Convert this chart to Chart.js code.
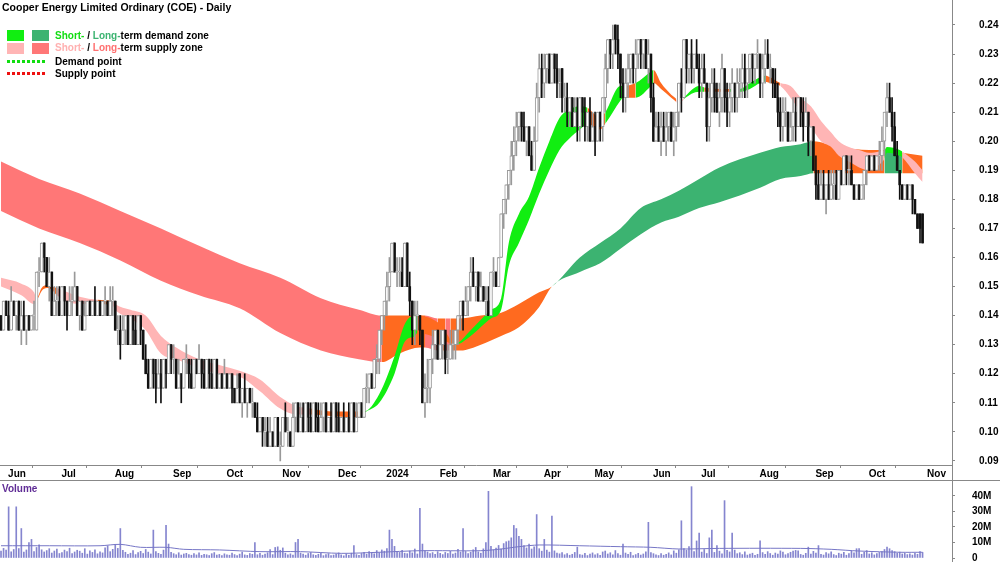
<!DOCTYPE html>
<html>
<head>
<meta charset="utf-8">
<script src="https://cdn.jsdelivr.net/npm/chart.js"></script>
<style>
  body { margin: 0; background: #fff; }
  #wrap { position: relative; width: 1000px; height: 562px; overflow: hidden; font-family: "Liberation Sans", Arial, sans-serif; }
  canvas { position: absolute; left: 0; }
  #priceCanvas { top: 0; }
  #volCanvas { top: 480px; }
  .lab { position: absolute; font-size: 10px; font-weight: bold; line-height: 12px; white-space: nowrap; color: #000; }
  .sw { position: absolute; width: 17px; height: 11px; }
  .dots { position: absolute; width: 38px; height: 3px; }
  .hline { position: absolute; left: 0; top: 480px; width: 1000px; height: 1px; background: #888; }
  .vline { position: absolute; left: 952px; top: 0; width: 1px; height: 562px; background: #888; }
</style>
</head>
<body>
<div id="wrap">
  <canvas id="priceCanvas" width="1000" height="481"></canvas>
  <canvas id="volCanvas" width="1000" height="82"></canvas>
  <div class="hline"></div>
  <div class="vline"></div>

  <div class="lab" style="left:2px;top:1px;font-size:10.5px">Cooper Energy Limited Ordinary (COE) - Daily</div>

  <div class="sw" style="left:7px;top:30px;background:#11ee11"></div>
  <div class="sw" style="left:32px;top:30px;background:#3cb371"></div>
  <div class="lab" style="left:55px;top:30px"><span style="color:#11dd11">Short-</span> / <span style="color:#3cb371">Long-</span>term demand zone</div>

  <div class="sw" style="left:7px;top:43px;background:#ffb5b5"></div>
  <div class="sw" style="left:32px;top:43px;background:#ff7777"></div>
  <div class="lab" style="left:55px;top:42px"><span style="color:#ffb0b0">Short-</span> / <span style="color:#ff7070">Long-</span>term supply zone</div>

  <div class="dots" style="left:7px;top:60px;background:repeating-linear-gradient(90deg,#11dd11 0 3px,transparent 3px 5px)"></div>
  <div class="lab" style="left:55px;top:56px">Demand point</div>
  <div class="dots" style="left:7px;top:72px;background:repeating-linear-gradient(90deg,#ee1111 0 3px,transparent 3px 5px)"></div>
  <div class="lab" style="left:55px;top:68px">Supply point</div>

  <div class="lab" style="left:2px;top:483px;color:#602d96">Volume</div>
</div>

<script>
// prices in thousandths of a dollar, one entry per trading day (30 May 2023 - 31 Oct 2024)
const opens = [
  140,135,145,140,135,145,140,145,135,140, 135,140,135,140,135,155,155,165,160,150,
  155,140,145,145,140,150,145,140,145,145, 150,140,145,135,140,145,140,145,140,145,
  140,145,145,140,145,145,135,135,130,135, 140,130,140,135,130,140,135,125,120,115,
  125,120,115,120,115,125,120,130,125,125, 115,120,115,125,125,120,115,125,120,125,
  120,115,125,120,115,125,115,120,115,120, 115,120,115,110,120,110,115,110,115,110,
  110,105,100,105,100,100,95,100,95,105, 95,95,105,100,100,95,105,110,100,105,
  100,110,105,100,110,105,100,105,110,100, 105,100,110,105,100,105,100,105,100,110,
  100,105,110,105,115,115,120,115,125,125, 135,140,145,150,155,165,155,155,155,150,
  165,150,145,135,140,140,135,110,115,115, 125,130,135,125,130,135,125,125,130,130,
  135,140,145,140,145,150,155,150,155,145, 150,145,145,140,155,155,150,160,175,180,
  185,190,195,200,205,210,205,200,205,195, 190,200,215,225,220,225,230,220,230,225,
  220,225,215,215,210,215,205,210,205,215, 210,205,210,200,205,200,210,205,215,225,
  235,230,240,235,230,220,215,220,225,230, 225,230,235,230,235,225,230,215,200,205,
  200,205,200,205,210,200,205,210,220,215, 235,225,230,225,230,225,220,225,220,205,
  215,220,215,210,215,225,215,210,215,220, 215,220,220,225,220,225,230,225,230,230,
  220,225,230,225,225,220,215,210,205,210, 210,200,205,210,205,215,210,205,210,200,
  205,190,185,180,185,180,185,180,185,185, 180,190,185,195,190,190,185,180,185,180,
  185,190,195,190,195,190,195,195,200,210, 215,210,205,195,190,185,180,185,180,185,
  180,175,175,175
];
const highs = [
  140,145,145,145,150,145,145,145,145,145, 140,140,140,145,155,160,165,165,160,160,
  155,150,150,150,150,150,145,150,150,155, 150,145,145,145,145,145,145,150,145,145,
  145,150,145,150,150,145,140,140,140,140, 140,140,140,140,140,140,135,130,125,125,
  125,125,125,125,125,125,130,130,130,125, 125,120,125,130,125,125,125,125,130,125,
  125,125,125,125,125,125,120,120,125,120, 120,120,115,120,120,115,120,115,115,115,
  110,110,105,105,105,105,105,100,105,105, 100,105,110,105,100,110,110,110,110,110,
  110,110,110,110,110,110,110,110,110,105, 110,110,110,110,105,110,105,110,110,110,
  110,110,110,115,120,120,120,125,130,135, 140,145,155,160,165,165,160,160,160,165,
  165,155,145,145,145,140,135,120,125,125, 135,135,135,135,135,135,130,135,135,135,
  140,145,145,150,150,160,160,155,155,155, 150,150,150,155,160,155,160,175,180,185,
  190,200,205,210,210,210,210,205,205,200, 205,220,230,230,230,230,230,230,230,230,
  225,225,220,220,215,215,215,215,215,215, 215,210,215,210,210,210,210,215,230,235,
  235,240,240,240,230,225,225,230,230,230, 235,235,235,235,235,235,230,220,210,210,
  210,210,210,210,210,210,210,220,225,235, 235,230,235,230,235,230,230,230,220,220,
  225,225,220,220,230,225,220,220,225,220, 225,225,230,230,225,230,230,230,235,230,
  230,235,235,230,225,225,220,215,215,215, 210,210,215,215,215,215,215,215,210,205,
  205,195,190,190,190,185,190,190,190,190, 190,190,195,195,195,195,185,185,185,185,
  190,195,195,195,195,195,200,205,210,220, 220,215,210,200,190,185,185,185,185,185,
  180,175,175,175
];
const lows = [
  135,135,140,135,135,140,135,135,130,135, 130,135,135,135,135,150,155,155,150,145,
  140,140,140,140,140,140,135,140,140,145, 140,135,135,135,140,140,140,140,140,140,
  140,140,140,140,140,135,130,125,130,130, 130,130,130,130,130,130,125,120,115,115,
  115,110,115,110,115,115,120,120,120,115, 115,110,115,120,115,115,115,120,120,115,
  115,115,115,115,115,115,115,115,115,115, 115,110,110,110,110,105,110,105,110,105,
  105,100,100,95,95,95,95,95,95,95, 90,95,100,95,95,95,100,100,100,100,
  100,100,100,100,100,100,100,100,100,100, 100,100,100,100,100,100,100,100,100,100,
  100,105,105,105,110,110,115,115,120,120, 130,135,140,145,155,155,150,150,150,150,
  150,140,130,130,135,130,110,105,110,110, 120,125,125,125,125,120,120,125,125,125,
  130,135,135,140,140,145,150,145,145,145, 145,140,140,140,150,150,150,160,170,175,
  180,185,190,195,200,200,200,195,195,190, 190,200,210,215,215,220,220,220,220,215,
  215,210,210,205,205,205,205,200,200,205, 200,200,200,200,195,200,200,200,210,220,
  225,225,230,225,215,210,210,215,220,220, 220,225,225,225,225,220,210,200,200,200,
  195,200,195,200,200,195,200,205,210,215, 220,220,220,220,225,215,215,220,200,200,
  210,210,210,205,210,210,205,205,210,210, 210,215,215,215,215,220,220,220,225,215,
  215,220,225,220,215,215,205,200,200,205, 200,200,200,200,205,205,200,205,195,195,
  190,180,180,180,180,175,180,180,180,180, 180,185,185,185,185,185,180,180,180,180,
  180,185,190,190,190,190,190,190,195,205, 210,200,195,190,180,180,180,180,180,175,
  175,170,165,165
];
const closes = [
  135,145,140,135,145,140,145,135,140,135, 140,135,140,140,155,155,165,160,150,155,
  140,145,145,140,150,145,140,145,145,150, 140,145,135,140,145,140,145,140,145,140,
  145,145,140,145,145,135,135,130,135,140, 130,140,135,130,140,135,125,120,115,125,
  120,115,120,115,125,120,130,125,125,115, 120,115,125,125,120,115,125,120,125,120,
  115,125,120,115,125,115,120,115,120,115, 120,115,110,115,110,115,110,115,110,110,
  105,100,105,100,100,95,100,95,105,95, 95,105,100,100,95,105,110,100,105,100,
  110,105,100,110,105,100,105,110,100,105, 100,110,105,100,105,100,105,100,110,100,
  105,110,105,115,115,120,115,125,125,135, 140,145,150,155,165,155,155,155,150,165,
  150,145,135,140,140,135,110,115,115,125, 130,135,125,130,135,125,125,130,130,135,
  140,145,140,145,150,155,150,155,145,150, 145,145,140,155,155,150,160,175,180,185,
  190,195,200,205,210,205,200,205,195,190, 200,215,225,220,225,230,220,230,225,220,
  220,215,215,210,215,205,210,205,215,210, 205,210,200,205,200,210,205,215,225,235,
  230,235,235,230,220,215,220,225,230,225, 230,235,230,235,225,230,215,200,205,200,
  205,200,205,210,200,205,210,220,215,235, 225,230,225,230,225,220,225,220,205,215,
  220,215,210,215,225,215,210,215,220,215, 220,220,225,220,225,230,225,230,230,220,
  225,230,225,225,220,215,210,205,210,210, 200,205,210,205,215,210,205,210,200,205,
  190,185,180,185,180,185,180,185,185,180, 190,185,195,190,190,185,180,185,180,185,
  190,195,190,195,190,195,195,200,210,215, 210,205,195,190,185,180,185,180,185,180,
  175,170,170,165
];
// daily volume, millions of shares
const volumes = [
  4.5,6.2,5.1,33,4.0,5.5,33,6.1,19,3.8,5.2,10,12,4.1,6.8,8.5,5.3,3.9,4.8,6.0,
  3.2,4.5,5.8,2.9,3.5,5.1,4.2,6.3,2.8,3.9,5.0,4.4,3.1,6.0,2.5,4.7,3.6,5.2,2.7,4.0,
  3.3,6.5,7.8,4.1,5.6,8.8,6.2,19,5.0,3.7,2.4,3.1,4.8,2.2,3.5,4.3,2.9,5.5,3.8,2.6,
  18,4.2,3.0,2.4,5.1,21,9.0,3.6,2.8,2.1,3.4,1.9,2.6,3.0,2.2,1.8,2.9,2.0,3.3,1.7,
  2.4,2.1,1.6,2.8,3.5,1.9,2.3,1.5,2.7,2.0,1.8,3.1,2.2,1.6,2.5,3.8,2.0,1.7,2.9,2.4,
  10,2.1,3.0,1.8,2.6,3.4,5.5,2.2,6.8,7.2,5.0,6.5,3.1,2.0,2.7,1.9,10,12,3.2,2.5,
  1.8,2.9,3.6,2.1,1.7,2.4,3.0,1.5,2.2,2.8,1.6,1.9,2.5,3.3,2.0,1.4,2.6,1.8,3.1,8.0,
  2.2,1.7,2.9,3.6,2.4,4.1,3.2,2.7,4.8,3.5,5.2,4.4,6.1,18,12,7.5,4.2,3.6,5.0,3.1,
  2.8,4.5,3.3,5.8,2.6,32,9.0,4.7,3.9,2.8,3.5,2.4,4.1,3.0,2.2,3.6,2.9,4.4,2.5,3.2,
  5.6,3.8,19,4.2,2.9,3.7,5.3,6.8,4.0,3.1,5.9,10,43,7.6,5.2,6.4,8.1,5.7,9.3,10.5,
  11,13,21,19,14,12,8,6.5,9,5.8,7.2,28,6.0,4.4,12,5.1,3.8,27,4.6,3.2,
  2.7,3.5,2.1,2.9,1.8,2.4,3.6,7,2.2,1.9,3.0,1.6,2.5,3.3,2.0,2.8,1.7,3.9,4.5,2.6,
  3.4,2.1,4.8,2.9,1.8,9,3.2,2.4,3.7,1.5,2.2,3.0,1.9,2.6,4.0,23,3.5,2.8,2.1,1.6,
  2.9,1.8,2.4,3.3,2.0,4.6,3.1,5.2,24,6,5.0,7.4,46,4.2,11,16,3.8,5.5,2.9,13,
  18,3.6,8,4.4,2.7,37,4.9,3.9,16,5.1,2.8,3.4,2.2,4.0,1.9,2.6,3.1,1.7,2.4,11,
  3.5,2.3,4.1,2.9,1.8,3.2,2.5,4.6,3.8,2.1,2.9,3.7,4.4,4.9,4.6,2.3,1.8,3.0,7,2.6,
  4.3,3.1,8,2.4,1.9,3.5,2.7,4.0,2.2,1.6,3.1,2.5,3.6,1.8,2.9,4.5,3.3,6,6,2.4,
  3.7,4.8,2.6,3.4,2.0,2.9,3.6,4.2,5.5,7,6,4.8,4.1,3.0,3.8,2.6,3.1,2.2,2.7,1.9,
  3.0,2.4,4.2,3.6
];
// volume moving average, read at sample days
const volAvgDay = [0, 19, 39, 47, 55, 65, 72, 86, 102, 118, 134, 149, 165, 189, 197, 204, 212, 228, 244, 256, 267, 283, 315, 327, 338, 354, 363];
const volAvg    = [7.9, 7.9, 7.9, 8.8, 6.9, 6.9, 5.6, 5.2, 4.1, 4.1, 3.0, 3.7, 4.7, 4.7, 5.8, 7.3, 8.4, 7.9, 7.3, 6.9, 5.8, 6.2, 6.2, 5.6, 4.5, 3.7, 3.7];

// long-term zone edges (thousandths) at sample days
const ltDay = [0, 15, 31, 47, 63, 78, 94, 110, 126, 141, 150, 157, 165, 167, 172, 175, 177, 181, 189, 197, 204, 212, 217, 228, 236, 244, 252, 260, 267, 275, 283, 299, 307, 315, 320, 330, 342, 348, 355, 363];
const ltTop = [193, 187, 182, 176, 170, 164, 158, 153, 146, 142, 140, 140, 140, 140, 139, 139, 139, 139, 140, 141, 144, 148, 150, 160, 165, 170, 177, 180, 183, 187, 191, 196, 198, 199, 200, 198, 197, 197, 196, 195];
const ltBot = [176, 170, 165, 159, 152, 147, 142.5, 134, 128, 125, 124, 127, 129, 129, 128, 128, 128, 128, 130, 133, 136, 143, 150, 155, 158, 163, 168, 172, 174, 177, 179, 184, 187, 188, 189, 189, 189, 189, 189, 189];
// zone kind from a given day on: S supply, D demand, N neutral
const ltZoneFrom = [0, 150, 167, 172, 175, 177, 217, 320, 348, 355];
const ltZoneKind = ['S', 'N', 'S', 'N', 'S', 'N', 'D', 'N', 'D', 'N'];

// short-term zone edges
const stDay = [0, 8, 13, 14, 16, 18, 20, 22, 31, 38, 44, 45, 51, 57, 63, 69, 78, 86, 94, 102, 110, 116, 122, 130, 141, 143, 149, 155, 159, 163, 164, 173, 179, 185, 193, 197, 200, 204, 208, 212, 216, 220, 224, 228, 231, 236, 238, 244, 245, 250, 256, 257, 260, 264, 266, 267, 269, 275, 277, 283, 287, 291, 295, 299, 301, 303, 307, 311, 315, 319, 323, 327, 330, 334, 338, 342, 346, 348, 349, 354, 355, 360, 363];
const stTop = [153, 151, 148, 146, 149.5, 150.5, 150, 149.5, 146.5, 145.5, 145, 144, 142, 140, 133, 129, 125, 123, 121, 118, 112, 109, 108, 107, 107, 107, 113, 126, 137, 140, 140, 137, 130.5, 135, 142, 146, 165, 175, 181, 191, 200, 208, 211, 212, 211.5, 208, 210, 219, 219, 220, 224, 224.5, 220, 216, 214.5, 213, 215, 219, 218.5, 218, 218, 218, 220, 222, 222.5, 222, 220, 219, 215, 212, 207, 203, 200, 198, 197, 196, 196.5, 197, 198, 197, 196.5, 193, 190];
const stBot = [150, 147, 144, 145, 148.5, 149.5, 149, 147, 144, 144, 143.5, 142, 139, 135, 127, 125, 122, 120, 119, 114, 108, 106, 106, 105.5, 105, 106.5, 110, 120, 131, 133, 134, 132, 130, 133, 139, 142, 157, 165, 173, 182, 190, 197, 201, 204, 206, 204, 206, 214, 215, 215, 219, 220, 218, 215, 213.5, 212.5, 214.5, 217, 217, 217, 217, 217, 218, 220, 220.5, 220, 219, 215, 210, 205, 200, 198, 195, 193, 191, 190, 192, 194, 196, 195, 194.5, 189, 186];
const stZoneFrom = [0, 14, 22, 38, 44, 122, 143, 164, 179, 231, 238, 245, 250, 257, 266, 269, 277, 287, 301, 307, 348, 355];
const stZoneKind = ['S', 'N', 'S', 'N', 'S', 'N', 'D', 'N', 'D', 'N', 'D', 'N', 'D', 'N', 'S', 'D', 'N', 'D', 'N', 'S', 'D', 'S'];

const monthDay = [2, 23, 44, 67, 88, 110, 132, 151, 172, 193, 213, 233, 256, 275, 298, 320, 341, 364];
const monthLabels = ['Jun', 'Jul', 'Aug', 'Sep', 'Oct', 'Nov', 'Dec', '2024', 'Feb', 'Mar', 'Apr', 'May', 'Jun', 'Jul', 'Aug', 'Sep', 'Oct', 'Nov'];
const priceTicks = [0.09, 0.10, 0.11, 0.12, 0.13, 0.14, 0.15, 0.16, 0.17, 0.18, 0.19, 0.20, 0.21, 0.22, 0.23, 0.24];
const volTicks = [0, 10, 20, 30, 40];

const zoneColours = {
  lt: { S: '#ff7777', D: '#3cb371', N: '#ff6a1f' },
  st: { S: '#ffb5b5', D: '#11ee11', N: '#ff6a1f' }
};

Chart.defaults.font.family = '"Liberation Sans", Arial, sans-serif';
Chart.defaults.font.size = 10;
Chart.defaults.font.weight = 'bold';
Chart.defaults.color = '#000';

function zoneAt(from, kinds, day) {
  let k = kinds[0];
  for (let j = 0; j < from.length; j++) {
    if (day >= from[j]) k = kinds[j];
  }
  return k;
}

function bandDatasets(days, top, bot, from, kinds, colours, order) {
  const edge = {
    type: 'line', pointRadius: 0, borderWidth: 0, borderColor: 'transparent',
    cubicInterpolationMode: 'monotone'
  };
  return [
    Object.assign({}, edge, {
      data: days.map((d, j) => ({ x: d, y: top[j] / 1000 })),
      fill: false, order: order + 1
    }),
    Object.assign({}, edge, {
      data: days.map((d, j) => ({ x: d, y: bot[j] / 1000 })),
      fill: '-1', order: order,
      backgroundColor: colours[kinds[0]],
      segment: {
        backgroundColor: ctx => colours[zoneAt(from, kinds, ctx.p0.parsed.x)]
      }
    })
  ];
}

// keep the axis boxes from reserving room for label overhang
function noPad(s) {
  s.paddingTop = 0; s.paddingBottom = 0; s.paddingLeft = 0; s.paddingRight = 0;
}

const bodyUp = [], bodyDown = [], wickUp = [], wickDown = [];
closes.forEach((c, i) => {
  const up = c >= opens[i];
  const body = { x: i, y: [opens[i] / 1000, c / 1000] };
  const wick = { x: i, y: [lows[i] / 1000, highs[i] / 1000] };
  if (up) { bodyUp.push(body); wickUp.push(wick); }
  else { bodyDown.push(body); wickDown.push(wick); }
});

const xMin = -0.4, xMax = 374.6;

const lineDs = bandDatasets(ltDay, ltTop, ltBot, ltZoneFrom, ltZoneKind, zoneColours.lt, 20)
  .concat(bandDatasets(stDay, stTop, stBot, stZoneFrom, stZoneKind, zoneColours.st, 10));

new Chart(document.getElementById('priceCanvas'), {
  type: 'bar',
  data: {
    datasets: lineDs.concat([
      { data: wickUp, backgroundColor: '#999', barThickness: 1, grouped: false, order: 3 },
      { data: wickDown, backgroundColor: '#111', barThickness: 1, grouped: false, order: 3 },
      { data: bodyUp, backgroundColor: '#fff', borderColor: '#999', borderWidth: 1, borderSkipped: false,
        barThickness: 3, minBarLength: 1, grouped: false, order: 1 },
      { data: bodyDown, backgroundColor: '#111', borderWidth: 0,
        barThickness: 2, minBarLength: 1, grouped: false, order: 1 }
    ])
  },
  options: {
    responsive: false,
    animation: false,
    layout: { padding: 0 },
    plugins: { legend: { display: false }, tooltip: { enabled: false } },
    scales: {
      x: {
        type: 'linear', min: xMin, max: xMax, offset: false,
        afterBuildTicks: s => { s.ticks = monthDay.map(v => ({ value: v })); },
        afterFit: s => { s.height = 16; noPad(s); },
        grid: { drawOnChartArea: false, tickLength: 3, color: '#888' },
        border: { display: true, color: '#888' },
        ticks: {
          autoSkip: false, maxRotation: 0, align: 'start', labelOffset: 2, padding: 0,
          callback: v => monthLabels[monthDay.indexOf(v)]
        }
      },
      y: {
        position: 'right', min: 0.0886, max: 0.2486,
        afterBuildTicks: s => { s.ticks = priceTicks.map(v => ({ value: v })); },
        afterFit: s => { s.width = 48; noPad(s); },
        grid: { drawOnChartArea: false, tickLength: 3, color: '#888' },
        border: { display: false },
        ticks: { padding: 24, callback: v => v.toFixed(2) }
      }
    }
  }
});

new Chart(document.getElementById('volCanvas'), {
  type: 'bar',
  data: {
    datasets: [
      {
        type: 'line', data: volAvgDay.map((d, j) => ({ x: d, y: volAvg[j] })),
        borderColor: '#7676c6', borderWidth: 1, pointRadius: 0, tension: 0.3, order: 0
      },
      {
        data: volumes.map((v, i) => ({ x: i, y: v })),
        backgroundColor: '#8585cf', barThickness: 1, grouped: false, order: 1
      }
    ]
  },
  options: {
    responsive: false,
    animation: false,
    layout: { padding: { top: 0, bottom: 4, left: 0, right: 0 } },
    plugins: { legend: { display: false }, tooltip: { enabled: false } },
    scales: {
      x: { type: 'linear', min: xMin, max: xMax, offset: false, display: false },
      y: {
        position: 'right', min: 0, max: 50.3,
        afterBuildTicks: s => { s.ticks = volTicks.map(v => ({ value: v })); },
        afterFit: s => { s.width = 48; noPad(s); },
        grid: { drawOnChartArea: false, tickLength: 3, color: '#888' },
        border: { display: false },
        ticks: { padding: 17, callback: v => (v === 0 ? '0' : v + 'M') }
      }
    }
  }
});
</script>
</body>
</html>
